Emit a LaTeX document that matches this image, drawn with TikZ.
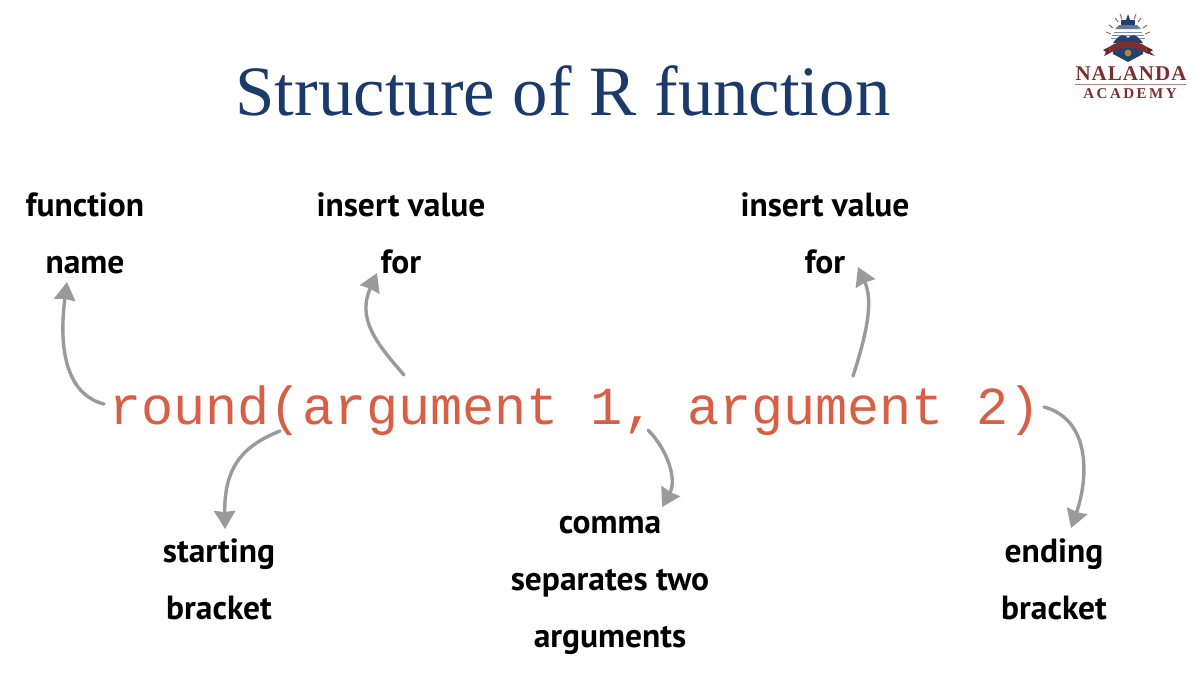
\documentclass[tikz,border=0pt]{standalone}
\usepackage{fontspec}
\setmainfont{PT Sans}
\newfontfamily\titlefont{Liberation Serif}
\newfontfamily\codefont{Liberation Mono}
\usetikzlibrary{arrows.meta}
\definecolor{titleblue}{HTML}{1B3A6B}
\definecolor{codered}{HTML}{D65F45}
\definecolor{arrowgray}{HTML}{9A9A9A}
\definecolor{logored}{HTML}{7A2E2E}
\definecolor{logoblue}{HTML}{24406E}
\definecolor{logogold}{HTML}{B08A3A}
\tikzset{
  x=1pt,y=-1pt,
  hand/.style={font=\fontsize{33.5}{57}\selectfont\bfseries,align=center,text=black,inner sep=0pt},
  pointer/.style={draw=arrowgray,line width=3.4pt,line cap=round,-{Stealth[length=18pt,width=21pt,inset=1pt]}},
  ray/.style={draw=logored!75,line width=1pt},
}
\begin{document}
\begin{tikzpicture}
\useasboundingbox (0,0) rectangle (1200,673);
\node[anchor=base,font=\titlefont\fontsize{70.8}{74}\selectfont,text=titleblue,inner sep=0pt] (title) at (563,115) {Structure of R function};
\node[anchor=base,font=\codefont\fontsize{53.5}{60}\selectfont,text=codered,inner sep=0pt] (code) at (575,424) {round(argument 1, argument 2)};
% labels
\node[hand] (fname) at (85,233) {function\\name};
\node[hand] (ins1) at (401,233) {insert value\\for};
\node[hand] (ins2) at (825,233) {insert value\\for};
\node[hand] (sb) at (219,579) {starting\\bracket};
\node[hand] (cm) at (610,585) {comma\\separates two\\arguments};
\node[hand] (eb) at (1054,579) {ending\\bracket};
% connector ends
\coordinate (a1) at (104,404); \coordinate (b1) at (67,282);
\coordinate (a2) at (404,375); \coordinate (b2) at (377,273);
\coordinate (a3) at (853,376); \coordinate (b3) at (858,267);
\coordinate (a4) at (280,431); \coordinate (b4) at (225,529);
\coordinate (a5) at (648,430); \coordinate (b5) at (662,507);
\coordinate (a6) at (1044,407); \coordinate (b6) at (1071,528);
\draw[pointer] (a1) .. controls (72,396) and (57,360) .. (b1);
\draw[pointer] (a2) .. controls (375,342) and (357,318) .. (b2);
\draw[pointer] (a3) .. controls (868,330) and (873,300) .. (b3);
\draw[pointer] (a4) .. controls (245,445) and (224,465) .. (b4);
\draw[pointer] (a5) .. controls (668,450) and (677,480) .. (b5);
\draw[pointer] (a6) .. controls (1092,420) and (1088,480) .. (b6);
% logo
\foreach \xa/\ya/\xb/\yb in {1111/34/1106/32,1113/28/1109/25,1118/22/1115/18,1122/19/1120/14,1134/19/1136/14,1138/22/1141/18,1143/28/1147/25,1145/34/1150/32}{
  \draw[ray] (\xa,\ya) -- (\xb,\yb);}
\fill[logoblue] (1121,20) rectangle (1135,25);
\fill[logoblue] (1128,14) -- (1130,20) -- (1126,20) -- cycle;
\fill[logoblue!70!white] (1119,25) -- (1137,25) -- (1141,29) -- (1115,29) -- cycle;
\draw[logoblue!60!white,line width=0.8pt] (1114,32) -- (1142,32) (1112,35) -- (1144,35) (1111,38) -- (1145,38);
\fill[logoblue] (1113,43) .. controls (1120,33) and (1125,34) .. (1128,38) .. controls (1131,34) and (1136,33) .. (1143,43) -- cycle;
\fill[logoblue] (1112,46) -- (1144,46) -- (1143,54) -- (1128,62) -- (1113,54) -- cycle;
\fill[logored] (1109,47) .. controls (1120,39) and (1136,39) .. (1147,47) -- (1146,53) .. controls (1136,46) and (1120,46) .. (1110,53) -- cycle;
\fill[logored!85!black] (1109,47) -- (1103,50) -- (1106,52) -- (1104,56) -- (1110,53) -- cycle;
\fill[logored!85!black] (1147,47) -- (1153,50) -- (1150,52) -- (1155,56) -- (1146,53) -- cycle;
\fill[logogold] (1128,53) circle (3.4pt);
\node[anchor=base,font=\titlefont\bfseries\fontsize{21}{23}\selectfont,text=logored,inner sep=0pt] (logoa) at (1131,80) {N\kern1pt A\kern1pt L\kern1pt A\kern1pt N\kern1pt D\kern1pt A};
\draw[logored!60,line width=0.5pt] (1075,84) -- (1186,84);
\node[anchor=base,font=\titlefont\bfseries\fontsize{15}{17}\selectfont,text=logored,inner sep=0pt] (logob) at (1130,98) {A\,C\,A\,D\,E\,M\,Y};
\end{tikzpicture}
\end{document}
